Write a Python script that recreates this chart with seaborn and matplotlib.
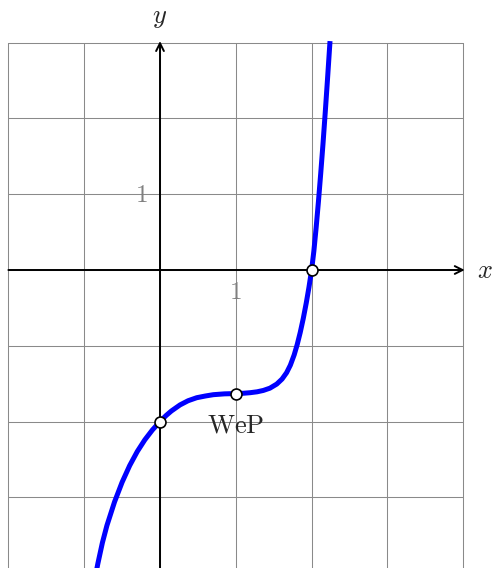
import matplotlib
matplotlib.use("Agg")
import matplotlib.pyplot as plt
import seaborn as sns
import pandas as pd

# Curve points (data units)
curve_x = [-0.835, -0.82, -0.76, -0.70, -0.60, -0.50, -0.40, -0.30, -0.20, -0.10, 0.0,
           0.08, 0.15, 0.264, 0.37, 0.484, 0.60, 0.703, 0.85, 1.0,
           1.10, 1.187, 1.28, 1.363, 1.45, 1.54, 1.61, 1.67, 1.72, 1.77, 1.81, 1.85,
           1.89, 1.93, 1.965, 2.0, 2.03, 2.06, 2.09, 2.12, 2.15, 2.18, 2.21, 2.243]
curve_y = [-3.95, -3.874, -3.598, -3.37, -3.06, -2.80, -2.58, -2.395, -2.24, -2.11, -2.0,
           -1.92, -1.86, -1.78, -1.725, -1.685, -1.662, -1.645, -1.634, -1.63,
           -1.626, -1.619, -1.607, -1.589, -1.559, -1.505, -1.439, -1.355, -1.255, -1.12, -0.984, -0.824,
           -0.64, -0.432, -0.229, 0.0, 0.25, 0.56, 0.90, 1.27, 1.66, 2.08, 2.52, 3.02]

# Marked points
pt_x = [0.0, 1.0, 2.0]
pt_y = [-2.0, -1.63, 0.0]

# Tick labels
xtick_vals = [1]
ytick_vals = [1]
point_label = "WeP"

grid_x = [-2, -1, 0, 1, 2, 3, 4]
grid_y = [-3, -2, -1, 0, 1, 2, 3]

sns.set_theme(style="white")
plt.rcParams["mathtext.fontset"] = "cm"
plt.rcParams["font.family"] = ["DejaVu Serif"]

fig = plt.figure(figsize=(4.93, 5.68), dpi=100)
ax = fig.add_axes([0, 0, 1, 1])
unit = 75.8
xmin, xmax = -160 / unit, (493 - 160) / unit
ymax, ymin = 270 / unit, -(568 - 270) / unit
ax.set_xlim(xmin, xmax)
ax.set_ylim(ymin, ymax)
ax.axis("off")

gcol = "#8a8a8a"
for gx in grid_x:
    ax.plot([gx, gx], [ymin, 3], color=gcol, lw=0.75, zorder=1)
for gy in grid_y:
    ax.plot([-2, 4], [gy, gy], color=gcol, lw=0.75, zorder=1)

# axes with arrows
ax.annotate("", xy=(4.02, 0), xytext=(-2, 0),
            arrowprops=dict(arrowstyle="->", color="black", lw=1.4, shrinkA=0, shrinkB=0,
                            mutation_scale=14), zorder=3)
ax.annotate("", xy=(0, 3.02), xytext=(0, ymin),
            arrowprops=dict(arrowstyle="->", color="black", lw=1.4, shrinkA=0, shrinkB=0,
                            mutation_scale=14), zorder=3)

ax.text(4.18, 0, r"$x$", fontsize=19, ha="left", va="center")
ax.text(0, 3.33, r"$y$", fontsize=19, ha="center", va="center")

for v in xtick_vals:
    ax.text(v, -0.3, r"$%d$" % v, fontsize=18, ha="center", va="center", color="#808080")
for v in ytick_vals:
    ax.text(-0.25, v - 0.02, r"$%d$" % v, fontsize=18, ha="center", va="center", color="#808080")

df = pd.DataFrame({"x": curve_x, "y": curve_y})
line_ax = sns.lineplot(data=df, x="x", y="y", ax=ax, color="#0000ff", lw=3.6, sort=False, zorder=4)
for ln in line_ax.get_lines()[-1:]:
    ln.set_solid_joinstyle("round")
    ln.set_solid_capstyle("butt")

pts = pd.DataFrame({"x": pt_x, "y": pt_y})
sns.scatterplot(data=pts, x="x", y="y", ax=ax, s=62, color="white", edgecolor="black",
                linewidth=1.2, zorder=5)

ax.text(1.0, -2.05, r"$\mathrm{%s}$" % point_label, fontsize=19, ha="center", va="center")

ax.set_xlim(xmin, xmax)
ax.set_ylim(ymin, ymax)
fig.savefig("out.png", dpi=100)
